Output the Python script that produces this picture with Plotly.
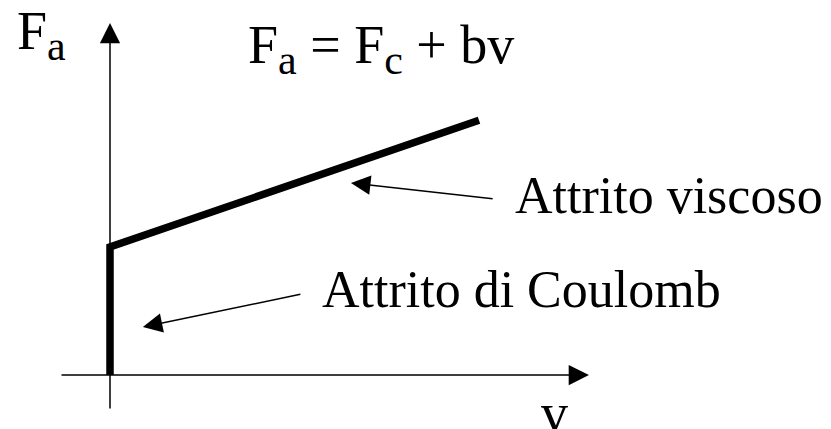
import plotly.graph_objects as go

W, H = 831, 429

# Friction characteristic (data units: v horizontal, F_a vertical)
v_vals = [0.0, 0.0, 1.0]
F_vals = [0.0, 1.0, 1.99]

# axis extents (data units)
x_axis_from, x_axis_to = -0.1355, 1.298
y_axis_from, y_axis_to = -0.273, 2.75

# label arrows: (tip_v, tip_F, tail_v, tail_F)
arrow_viscoso = (0.653, 1.50, 1.041, 1.375)
arrow_coulomb = (0.089, 0.375, 0.520, 0.633)

x_range = [-110 / 369, 721 / 369]
y_range = [(375 - 429) / 128, 375 / 128]

fig = go.Figure()
fig.add_trace(go.Scatter(x=v_vals, y=F_vals, mode="lines",
                         line=dict(color="black", width=7.5),
                         hoverinfo="skip", showlegend=False))

font = "Liberation Serif"

def arrow(x, y, ax, ay, width, size):
    fig.add_annotation(x=x, y=y, ax=ax, ay=ay, xref="x", yref="y",
                       axref="x", ayref="y", text="", showarrow=True,
                       arrowhead=2, arrowsize=size, arrowwidth=width,
                       arrowcolor="black", standoff=0, startstandoff=0)

# axes
arrow(x_axis_to, 0, x_axis_from, 0, 1.5, 2.7)
arrow(0, y_axis_to, 0, y_axis_from, 1.5, 2.7)
# label arrows
arrow(arrow_viscoso[0], arrow_viscoso[1], arrow_viscoso[2], arrow_viscoso[3], 1.5, 2.6)
arrow(arrow_coulomb[0], arrow_coulomb[1], arrow_coulomb[2], arrow_coulomb[3], 1.5, 2.6)

def txt(s, px, py, size, anchor="left"):
    fig.add_annotation(x=px / W, y=1 - py / H, xref="paper", yref="paper",
                       text=s, showarrow=False, xanchor=anchor, yanchor="middle",
                       font=dict(family=font, size=size, color="black"))

sub = lambda c: "<sub><span style='font-size:42px'>%s</span></sub>" % c

txt("F" + sub("a"), 15, 35, 54)
txt("F" + sub("a") + " = F" + sub("c") + " + bv", 246, 49, 54)
txt("Attrito viscoso", 513, 195, 52)
txt("Attrito di Coulomb", 320, 289, 52)
txt("v", 539, 413, 54)

fig.update_layout(width=W, height=H, margin=dict(l=0, r=0, t=0, b=0),
                  paper_bgcolor="white", plot_bgcolor="white",
                  font=dict(family=font),
                  xaxis=dict(range=x_range, visible=False, fixedrange=True),
                  yaxis=dict(range=y_range, visible=False, fixedrange=True))
fig.write_html("out.html", config={"displayModeBar": False},
               post_script="document.body.style.margin='0';")
